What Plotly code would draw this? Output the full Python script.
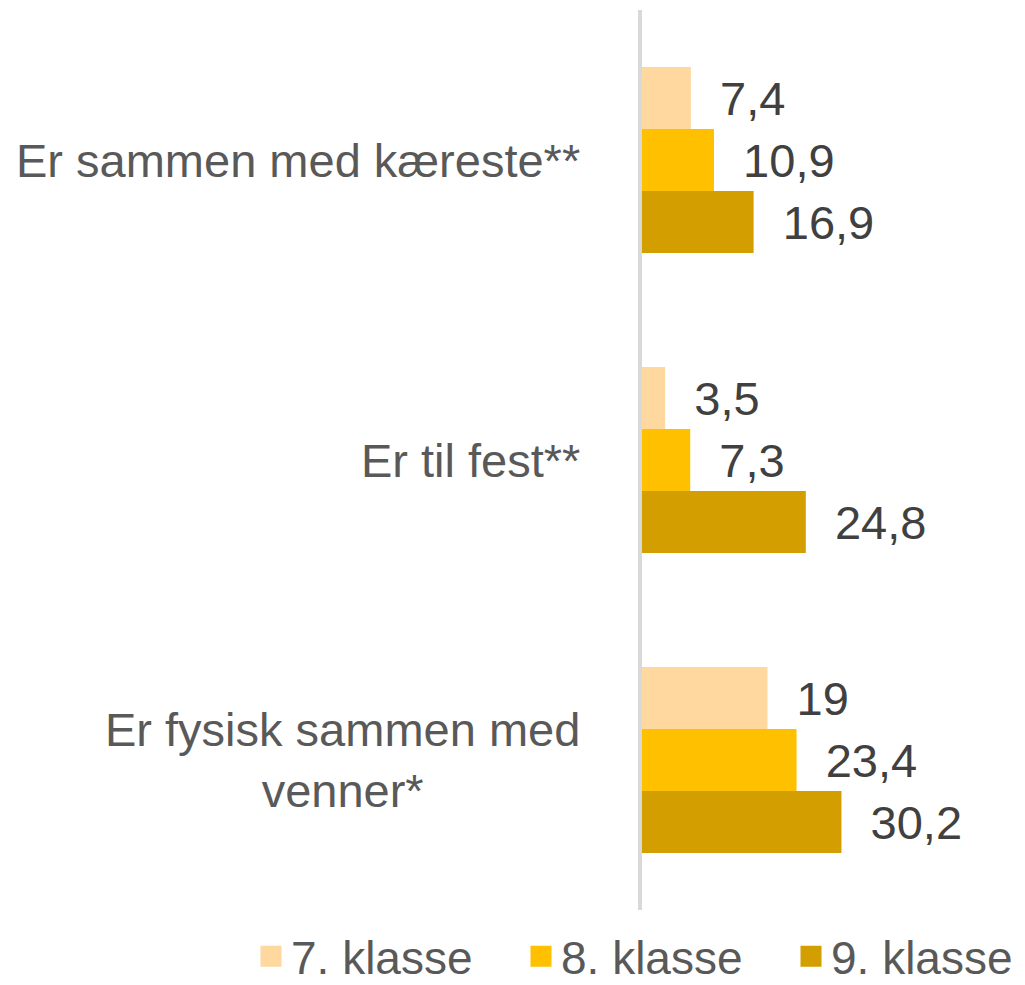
import plotly.graph_objects as go

categories = ["Er sammen med kæreste**", "Er til fest**", "Er fysisk sammen med<br>venner*"]
series_names = ["7. klasse", "8. klasse", "9. klasse"]
values_7 = [7.4, 3.5, 19.0]
values_8 = [10.9, 7.3, 23.4]
values_9 = [16.9, 24.8, 30.2]
colors = ["#FED89E", "#FFC000", "#D29E00"]

FONT = "Liberation Sans, Arial, sans-serif"


def fmt(v):
    return "\u00a0\u00a0" + f"{v:g}".replace(".", ",")


fig = go.Figure()
for name, vals, col in zip(series_names, [values_7, values_8, values_9], colors):
    fig.add_trace(go.Bar(
        y=categories, x=vals, orientation="h", name=name,
        marker=dict(color=col, line=dict(width=0)),
        text=[fmt(v) for v in vals], textposition="outside",
        textfont=dict(family=FONT, size=47, color="#404040"),
        constraintext="none", cliponaxis=False, showlegend=False,
    ))
    fig.add_trace(go.Scatter(
        x=[None], y=[None], mode="markers", name=name,
        marker=dict(symbol="square", size=16, color=col, line=dict(color=col, width=5)),
        showlegend=True,
    ))

for cat in categories:
    fig.add_annotation(
        x=0, xref="paper", y=cat, yref="y", xanchor="right", yanchor="middle",
        xshift=-60, text=cat, showarrow=False, align="center",
        font=dict(family=FONT, size=47, color="#595959"),
    )

fig.update_layout(
    width=1025, height=985,
    margin=dict(l=634, r=0, t=2, b=83, autoexpand=False),
    plot_bgcolor="white", paper_bgcolor="white",
    barmode="group", bargap=0.38, bargroupgap=0,
    showlegend=True,
    legend=dict(orientation="h", x=-1.0, xanchor="left", y=-0.011, yanchor="top",
                font=dict(family=FONT, size=46, color="#595959"),
                entrywidth=225, itemclick=False, bgcolor="rgba(0,0,0,0)"),
    xaxis=dict(range=[0, 59.2], showgrid=False, zeroline=False, showticklabels=False,
               showline=False),
    yaxis=dict(autorange="reversed", showticklabels=False, showgrid=False,
               showline=True, linecolor="#D9D9D9", linewidth=4, ticks=""),
)

fig.write_html("out.html")
